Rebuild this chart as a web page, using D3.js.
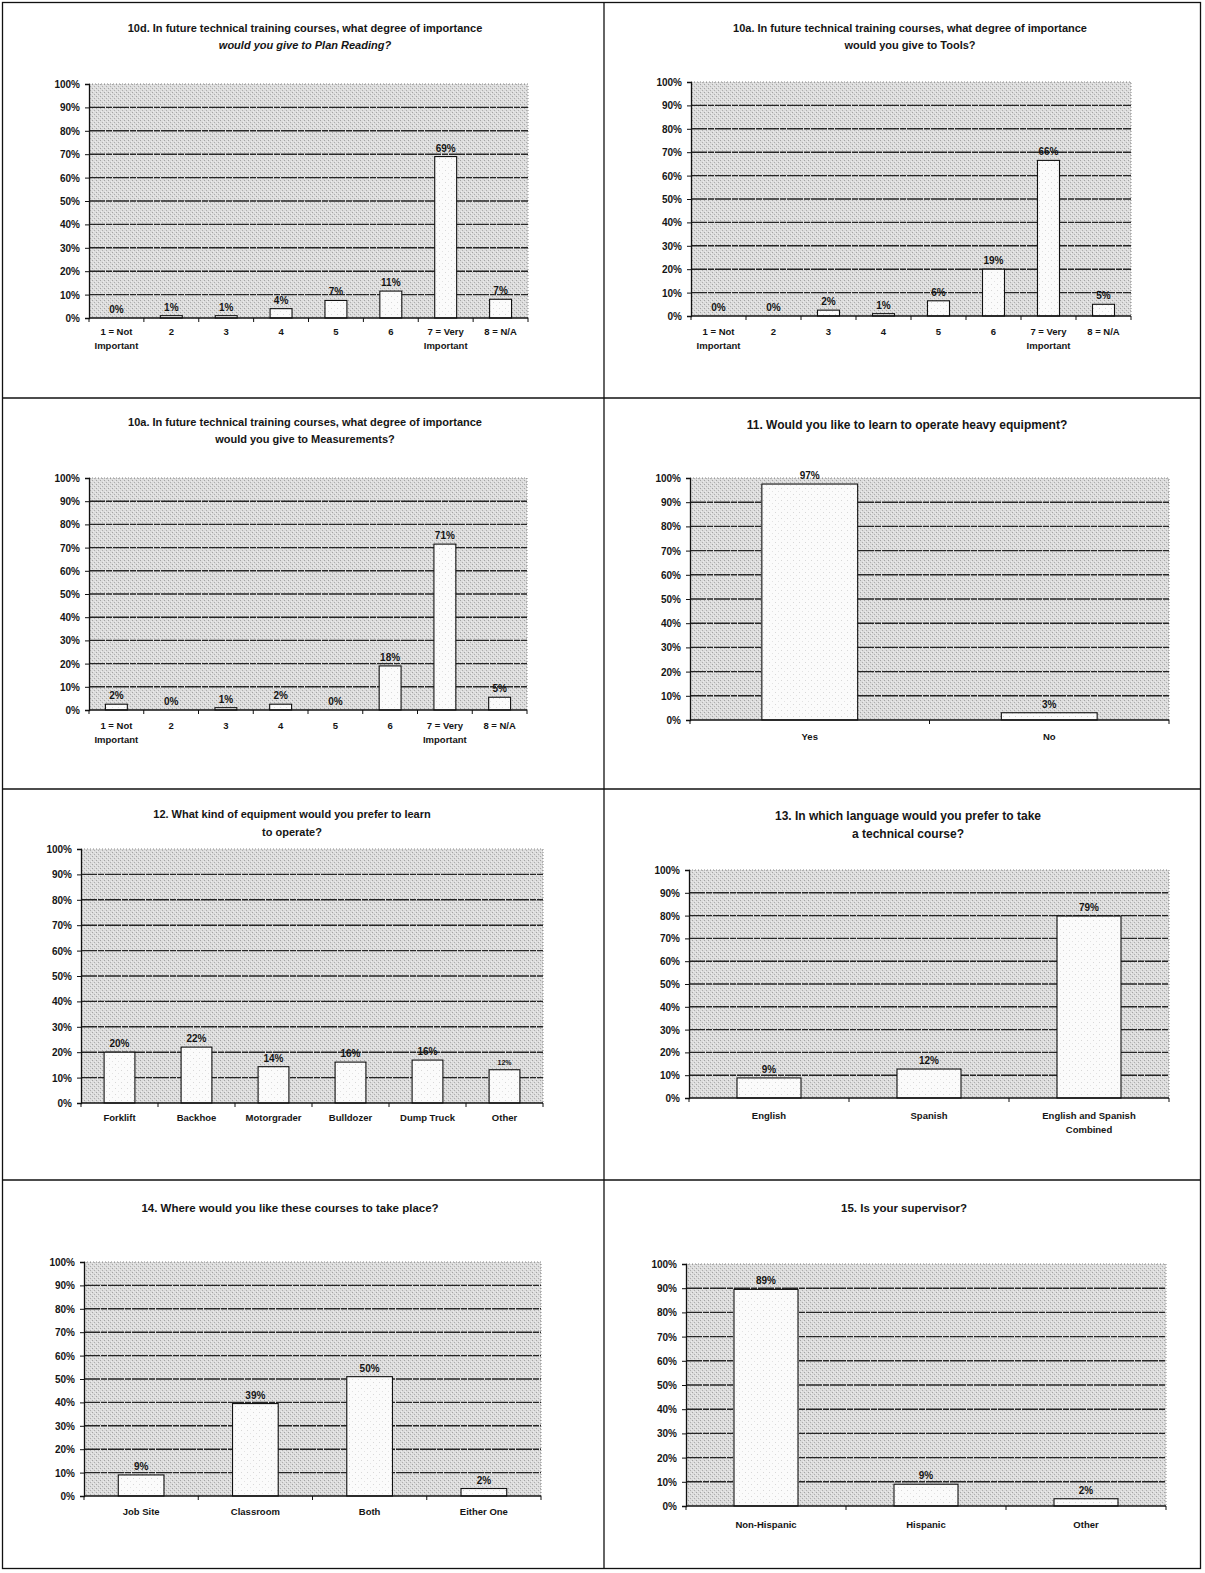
<!DOCTYPE html>
<html><head><meta charset="utf-8">
<script src="https://cdn.jsdelivr.net/npm/d3@7"></script>
<style>
body{margin:0;background:#fff}
svg{display:block}
text{font-family:"Liberation Sans",Arial,sans-serif;font-weight:bold;fill:#151515}
</style>
</head><body>
<svg id="c" width="1205" height="1573"></svg>
<script>
// ---------- data ----------
const yTickValues = [0,10,20,30,40,50,60,70,80,90,100];
const yTickLabels = ["0%","10%","20%","30%","40%","50%","60%","70%","80%","90%","100%"];

const scaleCats = ["1 = Not\nImportant","2","3","4","5","6","7 = Very\nImportant","8 = N/A"];

const title1 = ["10d. In future technical training courses, what degree of importance","would you give to Plan Reading?"];
const values1 = [0,1,1,4,7.5,11.5,69,8];
const labels1 = ["0%","1%","1%","4%","7%","11%","69%","7%"];

const title2 = ["10a. In future technical training courses, what degree of importance","would you give to Tools?"];
const values2 = [0,0,2.5,1,6.5,20,66.5,5];
const labels2 = ["0%","0%","2%","1%","6%","19%","66%","5%"];

const title3 = ["10a. In future technical training courses, what degree of importance","would you give to Measurements?"];
const values3 = [2.5,0,1,2.5,0,19,71.5,5.5];
const labels3 = ["2%","0%","1%","2%","0%","18%","71%","5%"];

const title4 = ["11. Would you like to learn to operate heavy equipment?"];
const cats4 = ["Yes","No"];
const values4 = [97.5,3];
const labels4 = ["97%","3%"];

const title5 = ["12. What kind of equipment would you prefer to learn","to operate?"];
const cats5 = ["Forklift","Backhoe","Motorgrader","Bulldozer","Dump Truck","Other"];
const values5 = [20,22,14.3,16.1,16.9,13.1];
const labels5 = ["20%","22%","14%","16%","16%","12%"];

const title6 = ["13. In which language would you prefer to take","a technical course?"];
const cats6 = ["English","Spanish","English and Spanish\nCombined"];
const values6 = [8.8,12.7,79.8];
const labels6 = ["9%","12%","79%"];

const title7 = ["14. Where would you like these courses to take place?"];
const cats7 = ["Job Site","Classroom","Both","Either One"];
const values7 = [9,39.5,51,3.2];
const labels7 = ["9%","39%","50%","2%"];

const title8 = ["15. Is your supervisor?"];
const cats8 = ["Non-Hispanic","Hispanic","Other"];
const values8 = [89.5,9,3];
const labels8 = ["89%","9%","2%"];

// ---------- layout ----------
const charts = [
  {title:title1, cats:scaleCats, values:values1, labels:labels1, cx:305, ty:[32,49], tfs:11, italic2:true,
   left:89, right:528, top:84, bottom:318, cy:335},
  {title:title2, cats:scaleCats, values:values2, labels:labels2, cx:910, ty:[32,49], tfs:11,
   left:691, right:1131, top:82, bottom:316, cy:335},
  {title:title3, cats:scaleCats, values:values3, labels:labels3, cx:305, ty:[426,443], tfs:11,
   left:89, right:527, top:478, bottom:710, cy:729},
  {title:title4, cats:cats4, values:values4, labels:labels4, cx:907, ty:[429], tfs:12,
   left:690, right:1169, top:478, bottom:720, cy:740},
  {title:title5, cats:cats5, values:values5, labels:labels5, cx:292, ty:[818,836], tfs:11,
   left:81, right:543, top:849, bottom:1103, cy:1121, smallLast:true},
  {title:title6, cats:cats6, values:values6, labels:labels6, cx:908, ty:[820,838], tfs:12,
   left:689, right:1169, top:870, bottom:1098, cy:1119},
  {title:title7, cats:cats7, values:values7, labels:labels7, cx:290, ty:[1212], tfs:11.5,
   left:84, right:541, top:1262, bottom:1496, cy:1515},
  {title:title8, cats:cats8, values:values8, labels:labels8, cx:904, ty:[1212], tfs:11.5,
   left:686, right:1166, top:1264, bottom:1506, cy:1528}
];

const svg = d3.select("#c");

// stipple pattern for plot background
const defs = svg.append("defs");
const pat = defs.append("pattern").attr("id","stip").attr("width",4).attr("height",4)
  .attr("patternUnits","userSpaceOnUse");
pat.append("rect").attr("width",4).attr("height",4).attr("fill","#dcdcdc");
pat.append("rect").attr("x",0).attr("y",0).attr("width",1).attr("height",1).attr("fill","#a4a4a4");
pat.append("rect").attr("x",2).attr("y",2).attr("width",1).attr("height",1).attr("fill","#aeaeae");
pat.append("rect").attr("x",3).attr("y",1).attr("width",1).attr("height",1).attr("fill","#ececec");
pat.append("rect").attr("x",1).attr("y",3).attr("width",1).attr("height",1).attr("fill","#ececec");

const bpat = defs.append("pattern").attr("id","bstip").attr("width",6).attr("height",6)
  .attr("patternUnits","userSpaceOnUse");
bpat.append("rect").attr("width",6).attr("height",6).attr("fill","#fbfbfb");
bpat.append("rect").attr("x",1).attr("y",2).attr("width",1).attr("height",1).attr("fill","#d8d8d8");
bpat.append("rect").attr("x",4).attr("y",5).attr("width",1).attr("height",1).attr("fill","#e2e2e2");

// panel frame
const frame = svg.append("g").attr("stroke","#111").attr("fill","none");
frame.append("rect").attr("x",2.5).attr("y",2.5).attr("width",1198).attr("height",1566).attr("stroke-width",1.3);
frame.append("line").attr("x1",604).attr("x2",604).attr("y1",2).attr("y2",1569).attr("stroke-width",1.3);
[398,789,1180].forEach(yy=>{
  frame.append("line").attr("x1",2).attr("x2",1201).attr("y1",yy).attr("y2",yy).attr("stroke-width",1.3);
});

charts.forEach(c=>{
  const g = svg.append("g");
  const x = d3.scaleBand().domain(c.cats).range([c.left,c.right]).paddingInner(0.6).paddingOuter(0.3);
  const y = d3.scaleLinear().domain([0,100]).range([c.bottom,c.top]);
  const step = x.step();

  // title
  c.title.forEach((t,i)=>{
    g.append("text").attr("x",c.cx).attr("y",c.ty[i]).attr("text-anchor","middle")
      .attr("font-size",c.tfs).attr("font-style",(i===1&&c.italic2)?"italic":"normal").text(t);
  });

  // plot background
  g.append("rect").attr("x",c.left).attr("y",c.top).attr("width",c.right-c.left)
    .attr("height",c.bottom-c.top).attr("fill","url(#stip)");
  // top/right dotted border
  g.append("path").attr("d",`M${c.left},${c.top}H${c.right}V${c.bottom}`)
    .attr("fill","none").attr("stroke","#8a8a8a").attr("stroke-dasharray","1,2");

  // gridlines
  g.append("g").selectAll("line").data(yTickValues.filter(v=>v>0&&v<100)).join("line")
    .attr("x1",c.left).attr("x2",c.right).attr("y1",d=>y(d)).attr("y2",d=>y(d))
    .attr("stroke","#262626").attr("stroke-width",1.4).attr("stroke-dasharray","16,1,6,1");

  // bars
  g.append("g").selectAll("rect").data(c.values).join("rect")
    .attr("x",(d,i)=>x(c.cats[i])).attr("width",x.bandwidth())
    .attr("y",d=>y(d)).attr("height",d=>c.bottom-y(d))
    .attr("fill","url(#bstip)").attr("stroke","#111").attr("stroke-width",1.1);

  // data labels
  g.append("g").selectAll("text").data(c.labels).join("text")
    .attr("x",(d,i)=>x(c.cats[i])+x.bandwidth()/2)
    .attr("y",(d,i)=>y(c.values[i])-5)
    .attr("text-anchor","middle")
    .attr("font-size",(d,i)=>(c.smallLast&&i===c.labels.length-1)?7:10)
    .text(d=>d);

  // y axis
  const ya = d3.axisLeft(y).tickValues(yTickValues).tickFormat((d,i)=>yTickLabels[i]).tickSize(4).tickPadding(5);
  const yg = g.append("g").attr("transform",`translate(${c.left},0)`).call(ya);
  yg.select(".domain").attr("stroke","#111").attr("stroke-width",1.3);
  yg.selectAll(".tick line").attr("stroke","#111");
  yg.selectAll(".tick text").attr("font-size",10).attr("font-family","'Liberation Sans',Arial,sans-serif")
    .attr("font-weight","bold").attr("fill","#151515").attr("dy","0.35em");

  // x axis line with category boundary ticks
  g.append("line").attr("x1",c.left).attr("x2",c.right).attr("y1",c.bottom).attr("y2",c.bottom)
    .attr("stroke","#111").attr("stroke-width",1.4);
  g.append("g").selectAll("line").data(d3.range(c.cats.length+1)).join("line")
    .attr("x1",i=>c.left+i*step).attr("x2",i=>c.left+i*step)
    .attr("y1",c.bottom).attr("y2",c.bottom+4).attr("stroke","#111");

  // category labels
  c.cats.forEach(cat=>{
    const lines = cat.split("\n");
    const t = g.append("text").attr("text-anchor","middle").attr("font-size",9.5)
      .attr("x",x(cat)+x.bandwidth()/2).attr("y",c.cy);
    lines.forEach((ln,j)=>{
      t.append("tspan").attr("x",x(cat)+x.bandwidth()/2).attr("dy",j===0?0:14).text(ln);
    });
  });
});
</script>
</body></html>
